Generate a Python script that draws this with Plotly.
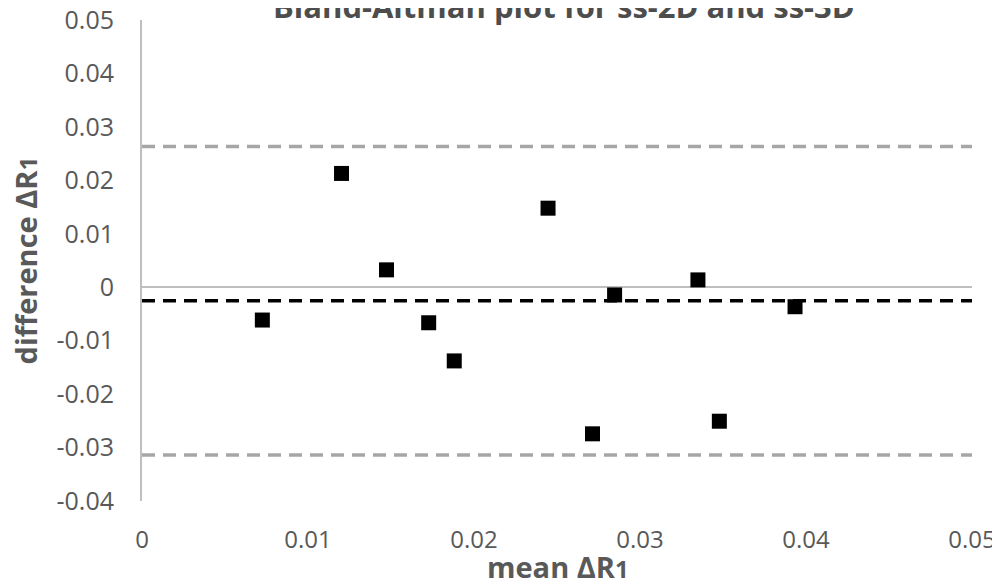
import plotly.graph_objects as go

# Data
mean_dR1 = [0.00725, 0.01202, 0.01473, 0.01727, 0.01881, 0.02446,
            0.02714, 0.02847, 0.03349, 0.03478, 0.03934]
diff_dR1 = [-0.00614, 0.02129, 0.00325, -0.00665, -0.01379, 0.01479,
            -0.02743, -0.00145, 0.00137, -0.02507, -0.00365]
line_x = [0.0, 0.05]
upper_loa = 0.02631
mean_bias = -0.00251
lower_loa = -0.03138

x_ticks = [0, 0.01, 0.02, 0.03, 0.04, 0.05]
x_labels = ["0", "0.01", "0.02", "0.03", "0.04", "0.05"]
y_ticks = [-0.04, -0.03, -0.02, -0.01, 0, 0.01, 0.02, 0.03, 0.04, 0.05]
y_labels = ["-0.04", "-0.03", "-0.02", "-0.01", "0", "0.01", "0.02", "0.03", "0.04", "0.05"]

FONT = "Open Sans"
GRAY_TXT = "#595959"

fig = go.Figure()
fig.add_trace(go.Scatter(x=line_x, y=[upper_loa] * 2, mode="lines",
                         line=dict(color="#A6A6A6", width=3.5, dash="13px,8px"),
                         showlegend=False, hoverinfo="skip"))
fig.add_trace(go.Scatter(x=line_x, y=[lower_loa] * 2, mode="lines",
                         line=dict(color="#A6A6A6", width=3.5, dash="13px,8px"),
                         showlegend=False, hoverinfo="skip"))
fig.add_trace(go.Scatter(x=line_x, y=[mean_bias] * 2, mode="lines",
                         line=dict(color="#000000", width=3.5, dash="13px,8px"),
                         showlegend=False, hoverinfo="skip"))
fig.add_trace(go.Scatter(x=mean_dR1, y=diff_dR1, mode="markers",
                         marker=dict(symbol="square", size=15, color="#000000"),
                         showlegend=False))

# page body has an 8px margin; figure sized to the visible area
fig.update_layout(
    width=992, height=575,
    margin=dict(l=134, r=28, t=12, b=82, autoexpand=False),
    paper_bgcolor="white", plot_bgcolor="white",
    font=dict(family=FONT, color=GRAY_TXT),
    annotations=[
        dict(text="<b>Bland-Altman plot for ss-2D and ss-3D</b>",
             xref="paper", yref="paper", x=0.508, y=1.0, yshift=-9,
             xanchor="center", yanchor="bottom", showarrow=False,
             font=dict(family=FONT, size=31, color="#4D4D4D")),
        dict(text="<b>mean ΔR<span style='font-size:24px'>1</span></b>",
             xref="paper", yref="paper", x=0.501, y=-0.1372,
             xanchor="center", yanchor="middle", showarrow=False,
             font=dict(family=FONT, size=29, color=GRAY_TXT)),
        dict(text="<b>difference ΔR<span style='font-size:24px'>1</span></b>",
             xref="paper", yref="paper", x=-0.1398, y=0.5, textangle=-90,
             xanchor="center", yanchor="middle", showarrow=False,
             font=dict(family=FONT, size=29, color=GRAY_TXT)),
    ],
)

fig.update_xaxes(
    range=[0, 0.05], tickvals=x_ticks, ticktext=x_labels,
    showgrid=False, zeroline=False, showline=False, automargin=False,
    tickfont=dict(family=FONT, size=24, color=GRAY_TXT),
    ticklabelstandoff=22, ticklabeloverflow="allow",
)
fig.update_yaxes(
    range=[-0.04, 0.05], tickvals=y_ticks, ticktext=y_labels,
    showgrid=False, zeroline=True, zerolinecolor="#BFBFBF", zerolinewidth=2,
    showline=True, linecolor="#BFBFBF", linewidth=2, automargin=False,
    tickfont=dict(family=FONT, size=25, color=GRAY_TXT),
    ticklabelstandoff=21, ticklabeloverflow="allow",
)

fig.write_html("out.html")
